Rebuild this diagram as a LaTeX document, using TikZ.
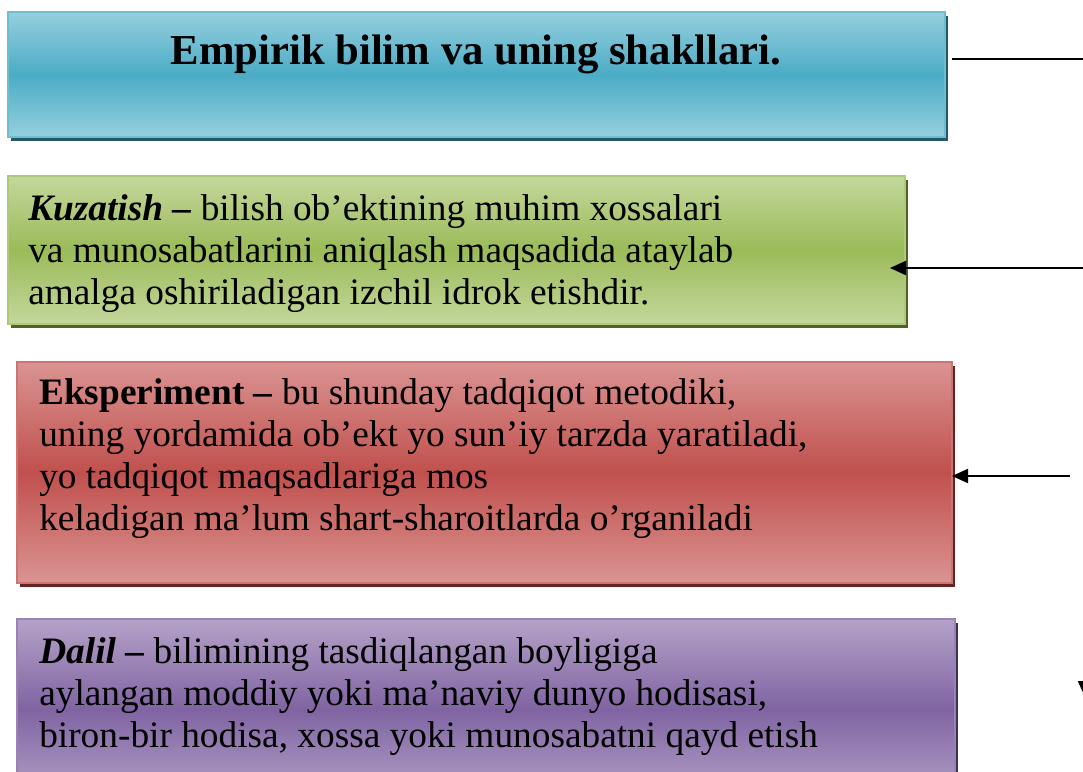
\documentclass[tikz,border=0pt]{standalone}
\usepackage{fontspec}
\setmainfont{Liberation Serif}
\usetikzlibrary{arrows.meta,positioning,calc,shadows}
\definecolor{empblue}{RGB}{75,172,198}
\definecolor{empblight}{RGB}{150,207,222}
\definecolor{empbshade}{RGB}{35,88,102}
\definecolor{kuzgreen}{RGB}{155,187,89}
\definecolor{kuzglight}{RGB}{196,215,156}
\definecolor{kuzgshade}{RGB}{79,98,40}
\definecolor{eksred}{RGB}{192,80,77}
\definecolor{eksrlight}{RGB}{218,148,146}
\definecolor{eksrshade}{RGB}{99,37,35}
\definecolor{dalpurple}{RGB}{128,100,162}
\definecolor{dalplight}{RGB}{180,162,200}
\definecolor{dalpshade}{RGB}{63,49,81}
\tikzset{
    infobox/.style n args={3}{
        rectangle, inner sep=0pt, outer sep=0pt, anchor=north west,
        top color=#2, bottom color=#2, middle color=#1,
        draw=#1!80!white, line width=1.2pt,
        drop shadow={shadow xshift=2.5pt, shadow yshift=-3pt, fill=#3, opacity=1}
    },
    bodytext/.style={font=\fontsize{28}{31.5}\selectfont, align=left, inner sep=0pt, anchor=base west},
    titletext/.style={font=\fontsize{32}{36}\selectfont\bfseries, inner sep=0pt, anchor=base},
    conn/.style={line width=1.5pt, black},
    arr/.style={conn, -{Triangle[length=12pt, width=10.5pt]}}
}
\begin{document}
\begin{tikzpicture}[x=0.75pt, y=-0.75pt]
    \clip (0,0) rectangle (1083,772);
    % Empirik bilim
    \node[infobox={empblue}{empblight}{empbshade}, minimum width=702.75pt, minimum height=93.75pt] (emp) at (8,12) {};
    \node[titletext] (empt) at (476,64) {Empirik bilim va uning shakllari.};

    % Kuzatish (base = last line)
    \node[infobox={kuzgreen}{kuzglight}{kuzgshade}, minimum width=672.75pt, minimum height=111pt] (kuz) at (8,176) {};
    \node[bodytext] (kuzt) at (28,304) {\textbf{\textit{Kuzatish} –} bilish ob’ektining muhim xossalari\\
        va munosabatlarini aniqlash maqsadida ataylab\\
        amalga oshiriladigan izchil idrok etishdir.};

    % Eksperiment
    \node[infobox={eksred}{eksrlight}{eksrshade}, minimum width=701.25pt, minimum height=165.75pt] (eks) at (17,362) {};
    \node[bodytext] (ekst) at (39,530) {\textbf{Eksperiment –} bu shunday tadqiqot metodiki,\\
        uning yordamida ob’ekt yo sun’iy tarzda yaratiladi,\\
        yo tadqiqot maqsadlariga mos\\
        keladigan ma’lum shart-sharoitlarda o’rganiladi};

    % Dalil
    \node[infobox={dalpurple}{dalplight}{dalpshade}, minimum width=703.5pt, minimum height=135.75pt] (dal) at (17,619) {};
    \node[bodytext] (dalt) at (39,747) {\textbf{\textit{Dalil} –} bilimining tasdiqlangan boyligiga\\
        aylangan moddiy yoki ma’naviy dunyo hodisasi,\\
        biron-bir hodisa, xossa yoki munosabatni qayd etish};

    % Connectors
    \coordinate (emp-in) at (1083,59);
    \coordinate (kuz-in) at (1083,268);
    \coordinate (eks-in) at (1070,476);
    \coordinate (dal-in) at (1085,600);
    \coordinate (dal-out) at (1085,697);
    \draw[conn, shorten <=5.25pt] (emp.east |- emp-in) -- (emp-in);
    \draw[arr] (kuz-in) -- ([xshift=-11.25pt]kuz.east |- kuz-in);
    \draw[arr] (eks-in) -- (eks.east |- eks-in);
    \draw[arr] (dal-in) -- (dal-out);
\end{tikzpicture}
\end{document}
